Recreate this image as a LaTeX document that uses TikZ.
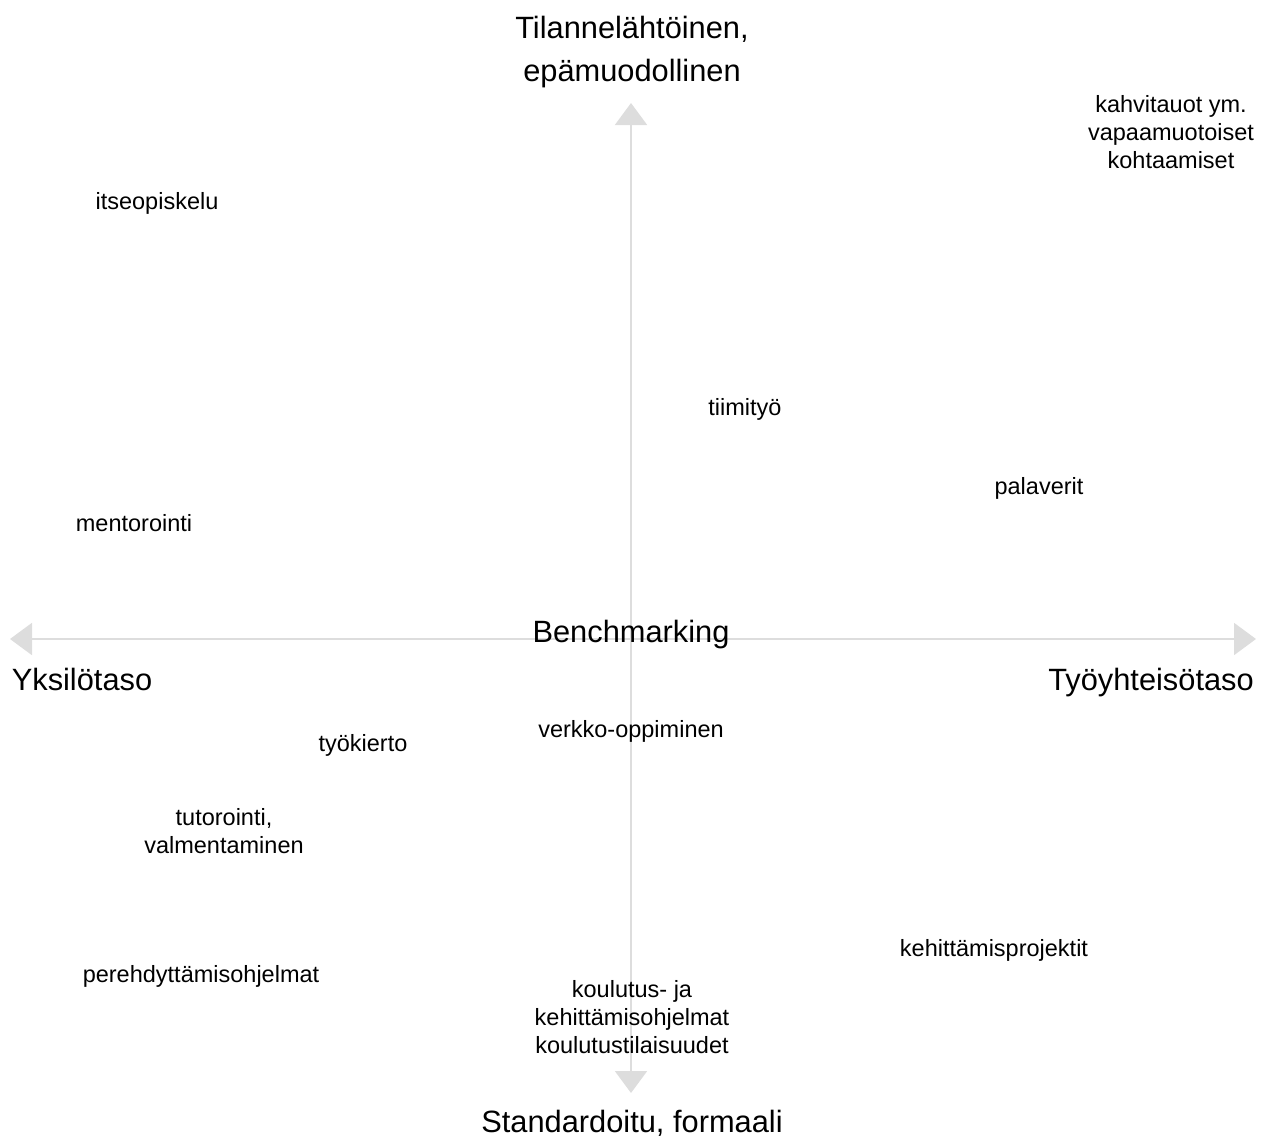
\documentclass[tikz,border=0pt]{standalone}
\usepackage{fontspec}
\setmainfont{Liberation Sans}
\usetikzlibrary{arrows.meta}
\definecolor{axisgray}{HTML}{DDDDDD}
\begin{document}
\begin{tikzpicture}[x=1pt,y=-1pt,
  lblm/.style={align=center,inner sep=0pt,font=\fontsize{23.5}{28}\selectfont},
  lbl/.style={lblm,text height=17pt,text depth=5pt},
  bigm/.style={align=center,inner sep=0pt,font=\fontsize{30.8}{43}\selectfont},
  big/.style={bigm,text height=22pt,text depth=6.5pt},
  axis/.style={draw=axisgray,line width=2pt,-{Triangle[width=32pt,length=22pt]},fill=axisgray}]
\useasboundingbox (0,0) rectangle (1267,1136);
\coordinate (top) at (631,103);
\coordinate (bot) at (631,1093);
\coordinate (lft) at (10,639);
\coordinate (rgt) at (1256,639);
\coordinate (ctr) at (631,639);
\draw[axis] (ctr) -- (top);
\draw[axis] (ctr) -- (bot);
\draw[axis] (ctr) -- (lft);
\draw[axis] (ctr) -- (rgt);
\node[big] (n1) at (632,52) [bigm,text height=,text depth=] {Tilannelähtöinen,\\epämuodollinen};
\node[big,text depth=3pt] (n2) at (632,1122.5) {Standardoitu, formaali};
\node[big] (n3) at (82,683) {Yksilötaso};
\node[big] (n4) at (1151,683) {Työyhteisötaso};
\node[big] (n5) at (631,635) {Benchmarking};
\node[lblm] (a1) at (1171,132) {kahvitauot ym.\\vapaamuotoiset\\kohtaamiset};
\node[lbl] (a2) at (157,203) {itseopiskelu};
\node[lbl] (a3) at (745,409) {tiimityö};
\node[lbl] (a4) at (1039,488) {palaverit};
\node[lbl] (a5) at (134,525) {mentorointi};
\node[lbl] (a6) at (631,731) {verkko-oppiminen};
\node[lbl] (a7) at (363,745) {työkierto};
\node[lblm] (a8) at (224,831) {tutorointi,\\valmentaminen};
\node[lbl] (a9) at (994,950) {kehittämisprojektit};
\node[lbl] (a10) at (201,976) {perehdyttämisohjelmat};
\node[lblm] (a11) at (632,1017) {koulutus- ja\\kehittämisohjelmat\\koulutustilaisuudet};
\end{tikzpicture}
\end{document}
